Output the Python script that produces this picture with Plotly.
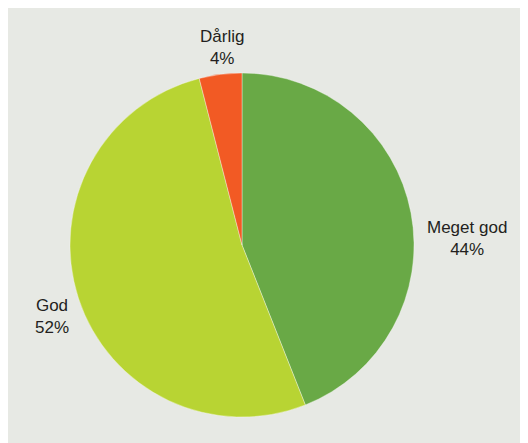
import plotly.graph_objects as go

labels = ["Meget god", "God", "Dårlig"]
values = [44, 52, 4]
colors = ["#69a946", "#b8d433", "#f25a24"]

W, H = 528, 443
OFF = 8  # page body margin offset
fig = go.Figure()
cx, cy, r = 242 - OFF, 245 - OFF, 172
fig.add_trace(go.Pie(
    labels=labels, values=values, sort=False, direction="clockwise", rotation=0,
    marker=dict(colors=colors, line=dict(color="rgba(255,255,255,0.6)", width=0.6)),
    textinfo="none", hoverinfo="label+percent", showlegend=False,
    domain=dict(x=[(cx - r) / W, (cx + r) / W], y=[(H - (cy + r)) / H, (H - (cy - r)) / H]),
))

# label positions (pixels) for each category
label_pos = {"Meget god": (467, 238), "God": (52, 316), "Dårlig": (222, 47)}
total = sum(values)
for lab, val in zip(labels, values):
    px, py = label_pos[lab]
    fig.add_annotation(
        x=(px - OFF) / W, y=(H - (py - OFF)) / H, xref="paper", yref="paper",
        text=f"{lab}<br>{round(val / total * 100)}%", showarrow=False,
        font=dict(family="Liberation Sans, Arial, sans-serif", size=17, color="#231f20"),
        align="center", xanchor="center", yanchor="middle",
    )

fig.update_layout(
    width=W, height=H, margin=dict(l=0, r=0, t=0, b=0),
    paper_bgcolor="#e7e9e4", plot_bgcolor="#e7e9e4",
)
fig.write_html("out.html")
